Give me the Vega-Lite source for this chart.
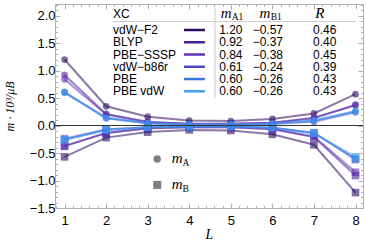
{
  "$schema": "https://vega.github.io/schema/vega-lite/v6.json",
  "autosize": "none",
  "width": 308,
  "height": 204,
  "padding": {"left": 55, "top": 4, "right": 3, "bottom": 35},
  "background": "white",
  "config": {"view": {"stroke": null}},
  "datasets": {
    "mag": [
      {"xc": "vdW−F2", "L": 1, "mA": 1.20, "mB": -0.57},
      {"xc": "vdW−F2", "L": 2, "mA": 0.35, "mB": -0.22},
      {"xc": "vdW−F2", "L": 3, "mA": 0.16, "mB": -0.12},
      {"xc": "vdW−F2", "L": 4, "mA": 0.09, "mB": -0.08},
      {"xc": "vdW−F2", "L": 5, "mA": 0.08, "mB": -0.09},
      {"xc": "vdW−F2", "L": 6, "mA": 0.12, "mB": -0.16},
      {"xc": "vdW−F2", "L": 7, "mA": 0.22, "mB": -0.35},
      {"xc": "vdW−F2", "L": 8, "mA": 0.57, "mB": -1.22},
      {"xc": "BLYP", "L": 1, "mA": 0.92, "mB": -0.37},
      {"xc": "BLYP", "L": 2, "mA": 0.21, "mB": -0.14},
      {"xc": "BLYP", "L": 3, "mA": 0.07, "mB": -0.05},
      {"xc": "BLYP", "L": 4, "mA": 0.03, "mB": -0.03},
      {"xc": "BLYP", "L": 5, "mA": 0.03, "mB": -0.03},
      {"xc": "BLYP", "L": 6, "mA": 0.05, "mB": -0.07},
      {"xc": "BLYP", "L": 7, "mA": 0.14, "mB": -0.21},
      {"xc": "BLYP", "L": 8, "mA": 0.37, "mB": -0.91},
      {"xc": "PBE−SSSP", "L": 1, "mA": 0.84, "mB": -0.38},
      {"xc": "PBE−SSSP", "L": 2, "mA": 0.20, "mB": -0.13},
      {"xc": "PBE−SSSP", "L": 3, "mA": 0.06, "mB": -0.05},
      {"xc": "PBE−SSSP", "L": 4, "mA": 0.03, "mB": -0.03},
      {"xc": "PBE−SSSP", "L": 5, "mA": 0.03, "mB": -0.03},
      {"xc": "PBE−SSSP", "L": 6, "mA": 0.05, "mB": -0.06},
      {"xc": "PBE−SSSP", "L": 7, "mA": 0.13, "mB": -0.20},
      {"xc": "PBE−SSSP", "L": 8, "mA": 0.38, "mB": -0.85},
      {"xc": "vdW−b86r", "L": 1, "mA": 0.61, "mB": -0.24},
      {"xc": "vdW−b86r", "L": 2, "mA": 0.13, "mB": -0.07},
      {"xc": "vdW−b86r", "L": 3, "mA": 0.04, "mB": -0.03},
      {"xc": "vdW−b86r", "L": 4, "mA": 0.02, "mB": -0.02},
      {"xc": "vdW−b86r", "L": 5, "mA": 0.02, "mB": -0.02},
      {"xc": "vdW−b86r", "L": 6, "mA": 0.03, "mB": -0.04},
      {"xc": "vdW−b86r", "L": 7, "mA": 0.07, "mB": -0.13},
      {"xc": "vdW−b86r", "L": 8, "mA": 0.24, "mB": -0.62},
      {"xc": "PBE", "L": 1, "mA": 0.60, "mB": -0.26},
      {"xc": "PBE", "L": 2, "mA": 0.14, "mB": -0.08},
      {"xc": "PBE", "L": 3, "mA": 0.04, "mB": -0.03},
      {"xc": "PBE", "L": 4, "mA": 0.02, "mB": -0.02},
      {"xc": "PBE", "L": 5, "mA": 0.02, "mB": -0.02},
      {"xc": "PBE", "L": 6, "mA": 0.03, "mB": -0.04},
      {"xc": "PBE", "L": 7, "mA": 0.09, "mB": -0.14},
      {"xc": "PBE", "L": 8, "mA": 0.26, "mB": -0.60},
      {"xc": "PBE vdW", "L": 1, "mA": 0.60, "mB": -0.26},
      {"xc": "PBE vdW", "L": 2, "mA": 0.14, "mB": -0.08},
      {"xc": "PBE vdW", "L": 3, "mA": 0.04, "mB": -0.03},
      {"xc": "PBE vdW", "L": 4, "mA": 0.02, "mB": -0.02},
      {"xc": "PBE vdW", "L": 5, "mA": 0.02, "mB": -0.02},
      {"xc": "PBE vdW", "L": 6, "mA": 0.03, "mB": -0.04},
      {"xc": "PBE vdW", "L": 7, "mA": 0.09, "mB": -0.14},
      {"xc": "PBE vdW", "L": 8, "mA": 0.26, "mB": -0.57}
    ],
    "table": [
      {"xc": "vdW−F2", "mA1": 1.20, "mB1": -0.57, "R": 0.46},
      {"xc": "BLYP", "mA1": 0.92, "mB1": -0.37, "R": 0.40},
      {"xc": "PBE−SSSP", "mA1": 0.84, "mB1": -0.38, "R": 0.45},
      {"xc": "vdW−b86r", "mA1": 0.61, "mB1": -0.24, "R": 0.39},
      {"xc": "PBE", "mA1": 0.60, "mB1": -0.26, "R": 0.43},
      {"xc": "PBE vdW", "mA1": 0.60, "mB1": -0.26, "R": 0.43}
    ],
    "one": [{}]
  },
  "resolve": {"scale": {"y": "independent"}, "axis": {"x": "independent", "y": "independent"}},
  "layer": [
    {
      "resolve": {"axis": {"x": "independent", "y": "independent"}},
      "layer": [
        {
          "data": {"name": "mag"},
          "mark": {"type": "line", "strokeWidth": 2, "opacity": 0.55},
          "encoding": {
            "x": {"field": "L", "type": "quantitative",
              "scale": {"domain": [0.77, 8.18], "nice": false, "zero": false},
              "axis": {"orient": "bottom",
                "values": [0.8,1,1.2,1.4,1.6,1.8,2,2.2,2.4,2.6,2.8,3,3.2,3.4,3.6,3.8,4,4.2,4.4,4.6,4.8,5,5.2,5.4,5.6,5.8,6,6.2,6.4,6.6,6.8,7,7.2,7.4,7.6,7.8,8],
                "labelExpr": "datum.value == round(datum.value) ? format(datum.value, 'd') : ''",
                "tickSize": {"condition": {"test": "datum.value == round(datum.value)", "value": -5}, "value": -2.5},
                "domainColor": "#b0b0b0", "tickColor": "#b0b0b0", "grid": false,
                "labelFont": "Liberation Sans", "labelFontSize": 13, "labelColor": "#000",
                "labelPadding": 11, "labelFlush": false, "labelOverlap": false,
                "title": "L", "titleFont": "Liberation Serif", "titleFontStyle": "italic",
                "titleFontWeight": "normal", "titleFontSize": 14, "titleColor": "#000", "titlePadding": -2}},
            "y": {"field": "mA", "type": "quantitative",
              "scale": {"domain": [-1.5, 2.21], "nice": false, "zero": false},
              "axis": {"orient": "left",
                "values": [-1.5,-1.4,-1.3,-1.2,-1.1,-1,-0.9,-0.8,-0.7,-0.6,-0.5,-0.4,-0.3,-0.2,-0.1,0,0.1,0.2,0.3,0.4,0.5,0.6,0.7,0.8,0.9,1,1.1,1.2,1.3,1.4,1.5,1.6,1.7,1.8,1.9,2,2.1,2.2],
                "labelExpr": "abs(datum.value*2 - round(datum.value*2)) < 0.001 ? format(datum.value, '.1f') : ''",
                "tickSize": {"condition": {"test": "abs(datum.value*2 - round(datum.value*2)) < 0.001", "value": -5}, "value": -2.5},
                "domainColor": "#b0b0b0", "tickColor": "#b0b0b0", "grid": false,
                "labelFont": "Liberation Sans", "labelFontSize": 13, "labelColor": "#000",
                "labelPadding": 5, "labelFlush": false, "labelOverlap": false,
                "title": "m · 10³/μB", "titleFont": "Liberation Serif", "titleFontStyle": "italic",
                "titleFontWeight": "normal", "titleFontSize": 12, "titleColor": "#000", "titlePadding": 13}},
            "color": {"field": "xc", "type": "nominal",
              "scale": {"domain": ["vdW−F2", "BLYP", "PBE−SSSP", "vdW−b86r", "PBE", "PBE vdW"],
                "range": ["#2c0a5e", "#4b1f96", "#5c31b6", "#4747c6", "#3f77e0", "#40a0f4"]},
              "legend": null}
          }
        },
        {
          "data": {"name": "mag"},
          "mark": {"type": "line", "strokeWidth": 2, "opacity": 0.55},
          "encoding": {
            "x": {"field": "L", "type": "quantitative",
              "axis": {"orient": "top",
                "values": [0.8,1,1.2,1.4,1.6,1.8,2,2.2,2.4,2.6,2.8,3,3.2,3.4,3.6,3.8,4,4.2,4.4,4.6,4.8,5,5.2,5.4,5.6,5.8,6,6.2,6.4,6.6,6.8,7,7.2,7.4,7.6,7.8,8],
                "labels": false,
                "tickSize": {"condition": {"test": "datum.value == round(datum.value)", "value": -5}, "value": -2.5},
                "domainColor": "#b0b0b0", "tickColor": "#b0b0b0", "grid": false, "title": null}},
            "y": {"field": "mB", "type": "quantitative",
              "axis": {"orient": "right",
                "values": [-1.5,-1.4,-1.3,-1.2,-1.1,-1,-0.9,-0.8,-0.7,-0.6,-0.5,-0.4,-0.3,-0.2,-0.1,0,0.1,0.2,0.3,0.4,0.5,0.6,0.7,0.8,0.9,1,1.1,1.2,1.3,1.4,1.5,1.6,1.7,1.8,1.9,2,2.1,2.2],
                "labels": false,
                "tickSize": {"condition": {"test": "abs(datum.value*2 - round(datum.value*2)) < 0.001", "value": -5}, "value": -2.5},
                "domainColor": "#b0b0b0", "tickColor": "#b0b0b0", "grid": false, "title": null}},
            "color": {"field": "xc", "type": "nominal", "legend": null}
          }
        },
        {
          "data": {"name": "mag"},
          "mark": {"type": "point", "shape": "circle", "filled": true, "size": 45, "opacity": 0.6},
          "encoding": {
            "x": {"field": "L", "type": "quantitative", "axis": null},
            "y": {"field": "mA", "type": "quantitative", "axis": null},
            "color": {"field": "xc", "type": "nominal", "legend": null}
          }
        },
        {
          "data": {"name": "mag"},
          "mark": {"type": "point", "shape": "square", "filled": true, "size": 58, "opacity": 0.6},
          "encoding": {
            "x": {"field": "L", "type": "quantitative", "axis": null},
            "y": {"field": "mB", "type": "quantitative", "axis": null},
            "color": {"field": "xc", "type": "nominal", "legend": null}
          }
        },
        {
          "data": {"name": "one"},
          "mark": {"type": "rule", "color": "#333333", "strokeWidth": 1},
          "encoding": {"y": {"datum": 0, "type": "quantitative", "axis": null}}
        },
        {
          "data": {"name": "one"},
          "mark": {"type": "rule", "color": "#c8c8c8", "strokeWidth": 1},
          "encoding": {
            "x": {"datum": 2.166, "type": "quantitative", "axis": null},
            "x2": {"datum": 8.01},
            "y": {"datum": 1.89, "type": "quantitative", "axis": null}
          }
        },
        {
          "data": {"name": "one"},
          "mark": {"type": "rule", "color": "#c8c8c8", "strokeWidth": 1},
          "encoding": {
            "x": {"datum": 4.618, "type": "quantitative", "axis": null},
            "y": {"datum": 2.14, "type": "quantitative", "axis": null},
            "y2": {"datum": 0.5}
          }
        },
        {
          "data": {"name": "one"},
          "mark": {"type": "text", "text": "XC", "align": "left", "baseline": "middle", "font": "Liberation Sans", "fontSize": 12, "color": "#000"},
          "encoding": {
            "x": {"datum": 2.166, "type": "quantitative", "axis": null},
            "y": {"datum": 2.03, "type": "quantitative", "axis": null}
          }
        },
        {
          "data": {"name": "one"},
          "mark": {"type": "text", "text": "m", "align": "left", "baseline": "middle", "font": "Liberation Serif", "fontStyle": "italic", "fontSize": 15, "color": "#000"},
          "encoding": {
            "x": {"datum": 4.76, "type": "quantitative", "axis": null},
            "y": {"datum": 2.04, "type": "quantitative", "axis": null}
          }
        },
        {
          "data": {"name": "one"},
          "mark": {"type": "text", "text": "A1", "align": "left", "baseline": "middle", "dy": 4, "font": "Liberation Serif", "fontSize": 9.5, "color": "#000"},
          "encoding": {
            "x": {"datum": 5.02, "type": "quantitative", "axis": null},
            "y": {"datum": 2.04, "type": "quantitative", "axis": null}
          }
        },
        {
          "data": {"name": "one"},
          "mark": {"type": "text", "text": "m", "align": "left", "baseline": "middle", "font": "Liberation Serif", "fontStyle": "italic", "fontSize": 15, "color": "#000"},
          "encoding": {
            "x": {"datum": 5.69, "type": "quantitative", "axis": null},
            "y": {"datum": 2.04, "type": "quantitative", "axis": null}
          }
        },
        {
          "data": {"name": "one"},
          "mark": {"type": "text", "text": "B1", "align": "left", "baseline": "middle", "dy": 4, "font": "Liberation Serif", "fontSize": 9.5, "color": "#000"},
          "encoding": {
            "x": {"datum": 5.96, "type": "quantitative", "axis": null},
            "y": {"datum": 2.04, "type": "quantitative", "axis": null}
          }
        },
        {
          "data": {"name": "one"},
          "mark": {"type": "text", "text": "R", "align": "center", "baseline": "middle", "font": "Liberation Serif", "fontStyle": "italic", "fontSize": 15, "color": "#000"},
          "encoding": {
            "x": {"datum": 7.14, "type": "quantitative", "axis": null},
            "y": {"datum": 2.04, "type": "quantitative", "axis": null}
          }
        },
        {
          "data": {"name": "one"},
          "mark": {"type": "point", "shape": "circle", "filled": true, "size": 55, "color": "#7f7f7f", "opacity": 1},
          "encoding": {
            "x": {"datum": 3.23, "type": "quantitative", "axis": null},
            "y": {"datum": -0.61, "type": "quantitative", "axis": null}
          }
        },
        {
          "data": {"name": "one"},
          "mark": {"type": "point", "shape": "square", "filled": true, "size": 65, "color": "#7f7f7f", "opacity": 1},
          "encoding": {
            "x": {"datum": 3.23, "type": "quantitative", "axis": null},
            "y": {"datum": -1.08, "type": "quantitative", "axis": null}
          }
        },
        {
          "data": {"name": "one"},
          "mark": {"type": "text", "text": "m", "align": "left", "baseline": "middle", "font": "Liberation Serif", "fontStyle": "italic", "fontSize": 15, "color": "#000"},
          "encoding": {
            "x": {"datum": 3.58, "type": "quantitative", "axis": null},
            "y": {"datum": -0.59, "type": "quantitative", "axis": null}
          }
        },
        {
          "data": {"name": "one"},
          "mark": {"type": "text", "text": "A", "align": "left", "baseline": "middle", "dy": 5, "font": "Liberation Serif", "fontSize": 9.5, "color": "#000"},
          "encoding": {
            "x": {"datum": 3.84, "type": "quantitative", "axis": null},
            "y": {"datum": -0.59, "type": "quantitative", "axis": null}
          }
        },
        {
          "data": {"name": "one"},
          "mark": {"type": "text", "text": "m", "align": "left", "baseline": "middle", "font": "Liberation Serif", "fontStyle": "italic", "fontSize": 15, "color": "#000"},
          "encoding": {
            "x": {"datum": 3.58, "type": "quantitative", "axis": null},
            "y": {"datum": -1.06, "type": "quantitative", "axis": null}
          }
        },
        {
          "data": {"name": "one"},
          "mark": {"type": "text", "text": "B", "align": "left", "baseline": "middle", "dy": 5, "font": "Liberation Serif", "fontSize": 9.5, "color": "#000"},
          "encoding": {
            "x": {"datum": 3.84, "type": "quantitative", "axis": null},
            "y": {"datum": -1.06, "type": "quantitative", "axis": null}
          }
        }
      ]
    },
    {
      "data": {"name": "table"},
      "encoding": {
        "y": {"field": "xc", "type": "nominal", "sort": null,
          "scale": {"type": "point", "domain": ["vdW−F2", "BLYP", "PBE−SSSP", "vdW−b86r", "PBE", "PBE vdW"], "range": [26, 87.3], "padding": 0},
          "axis": null}
      },
      "layer": [
        {
          "mark": {"type": "text", "align": "left", "baseline": "middle", "font": "Liberation Sans", "fontSize": 12, "color": "#000"},
          "encoding": {
            "x": {"datum": 2.166, "type": "quantitative", "axis": null},
            "text": {"field": "xc"}
          }
        },
        {
          "mark": {"type": "rule", "strokeWidth": 2.5},
          "encoding": {
            "x": {"datum": 3.873, "type": "quantitative", "axis": null},
            "x2": {"datum": 4.377},
            "color": {"field": "xc", "type": "nominal", "legend": null}
          }
        },
        {
          "mark": {"type": "text", "align": "center", "baseline": "middle", "font": "Liberation Sans", "fontSize": 12, "color": "#000"},
          "encoding": {
            "x": {"datum": 5.0, "type": "quantitative", "axis": null},
            "text": {"field": "mA1", "format": ".2f"}
          }
        },
        {
          "mark": {"type": "text", "align": "center", "baseline": "middle", "font": "Liberation Sans", "fontSize": 12, "color": "#000"},
          "encoding": {
            "x": {"datum": 5.89, "type": "quantitative", "axis": null},
            "text": {"field": "mB1", "format": ".2f"}
          }
        },
        {
          "mark": {"type": "text", "align": "center", "baseline": "middle", "font": "Liberation Sans", "fontSize": 12, "color": "#000"},
          "encoding": {
            "x": {"datum": 7.26, "type": "quantitative", "axis": null},
            "text": {"field": "R", "format": ".2f"}
          }
        }
      ]
    }
  ]
}
